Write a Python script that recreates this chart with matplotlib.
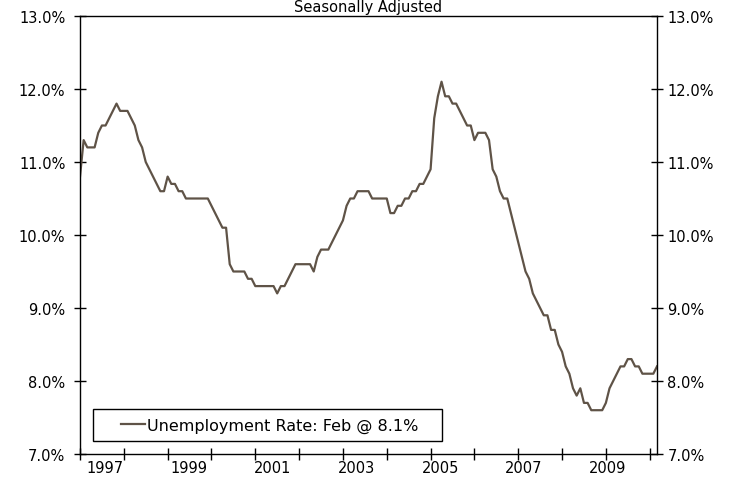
import numpy as np
import pandas as pd
import matplotlib
matplotlib.use("Agg")
import matplotlib.pyplot as plt
from matplotlib.patches import Rectangle
from matplotlib.ticker import FuncFormatter

# Monthly unemployment rate, Dec 1996 - Feb 2010
months = pd.date_range("1996-12-01", "2010-02-01", freq="MS")
rate = [
    10.8, 11.3, 11.2, 11.2, 11.2, 11.4, 11.5, 11.5, 11.6, 11.7, 11.8, 11.7,
    11.7, 11.7, 11.6, 11.5, 11.3, 11.2, 11.0, 10.9, 10.8, 10.7, 10.6, 10.6,
    10.8, 10.7, 10.7, 10.6, 10.6, 10.5, 10.5, 10.5, 10.5, 10.5, 10.5, 10.5, 10.4,
    10.3, 10.2, 10.1, 10.1, 9.6, 9.5, 9.5, 9.5, 9.5, 9.4, 9.4, 9.3,
    9.3, 9.3, 9.3, 9.3, 9.3, 9.2, 9.3, 9.3, 9.4, 9.5, 9.6, 9.6,
    9.6, 9.6, 9.6, 9.5, 9.7, 9.8, 9.8, 9.8, 9.9, 10.0, 10.1, 10.2,
    10.4, 10.5, 10.5, 10.6, 10.6, 10.6, 10.6, 10.5, 10.5, 10.5, 10.5, 10.5,
    10.3, 10.3, 10.4, 10.4, 10.5, 10.5, 10.6, 10.6, 10.7, 10.7, 10.8, 10.9,
    11.6, 11.9, 12.1, 11.9, 11.9, 11.8, 11.8, 11.7, 11.6, 11.5, 11.5, 11.3,
    11.4, 11.4, 11.4, 11.3, 10.9, 10.8, 10.6, 10.5, 10.5, 10.3, 10.1, 9.9,
    9.7, 9.5, 9.4, 9.2, 9.1, 9.0, 8.9, 8.9, 8.7, 8.7, 8.5, 8.4,
    8.2, 8.1, 7.9, 7.8, 7.9, 7.7, 7.7, 7.6, 7.6, 7.6, 7.6, 7.7,
    7.9, 8.0, 8.1, 8.2, 8.2, 8.3, 8.3, 8.2, 8.2, 8.1, 8.1, 8.1,
    8.1, 8.2,
]
year_labels = ["1997", "1999", "2001", "2003", "2005", "2007", "2009"]
legend_label = "Unemployment Rate: Feb @ 8.1%"
subtitle = "Seasonally Adjusted"

df = pd.DataFrame({"month": months, "rate": rate})
x = np.arange(len(df))

plt.rcParams["font.family"] = ["DejaVu Sans"]
fig = plt.figure(figsize=(7.38, 4.89), dpi=100)
ax = fig.add_axes([80 / 738, 1 - 455 / 489, 577 / 738, 438 / 489])

line, = ax.plot(x, df["rate"], color="#5f5347", lw=1.6, label=legend_label)

ax.set_xlim(0, len(df) - 1)
ax.set_ylim(7, 13)
ax.set_yticks(np.arange(7, 13.1, 1))
pct = FuncFormatter(lambda v, p: f"{v:.1f}%")
ax.yaxis.set_major_formatter(pct)

# yearly tick marks, labels every other year (placed as in the original)
ax.set_xticks(np.arange(0, len(df), 12))
ax.set_xticklabels([])
ax.set_xticks(np.linspace(6.9, 144.5, len(year_labels)), minor=True)
ax.set_xticklabels(year_labels, minor=True)

for s in ax.spines.values():
    s.set_color("black")
    s.set_linewidth(1)

ax.tick_params(axis="both", which="major", direction="inout", length=9,
               width=1, colors="black", labelsize=10.5)
ax.tick_params(axis="y", pad=6)
ax.tick_params(axis="x", which="minor", length=0, pad=4, labelsize=10.5)

ax2 = ax.twinx()
ax2.set_ylim(ax.get_ylim())
ax2.set_yticks(ax.get_yticks())
ax2.yaxis.set_major_formatter(pct)
ax2.tick_params(axis="y", direction="inout", length=9, width=1, pad=3,
                labelsize=10.5)
for s in ax2.spines.values():
    s.set_visible(False)

# legend box
ax.add_patch(Rectangle((13 / 577, 13 / 438), 349 / 577, 32 / 438,
                       transform=ax.transAxes, fill=False, ec="black",
                       lw=1, zorder=5))
ax.legend(handles=[line], loc="center left",
          bbox_to_anchor=(41 / 577, 29 / 438), frameon=False,
          borderpad=0, borderaxespad=0, handlelength=1.5,
          handletextpad=0.15, fontsize=11.5)

fig.text(368 / 738, 1.0, subtitle, ha="center", va="top", fontsize=10.5)

fig.savefig("out.png", dpi=100)
